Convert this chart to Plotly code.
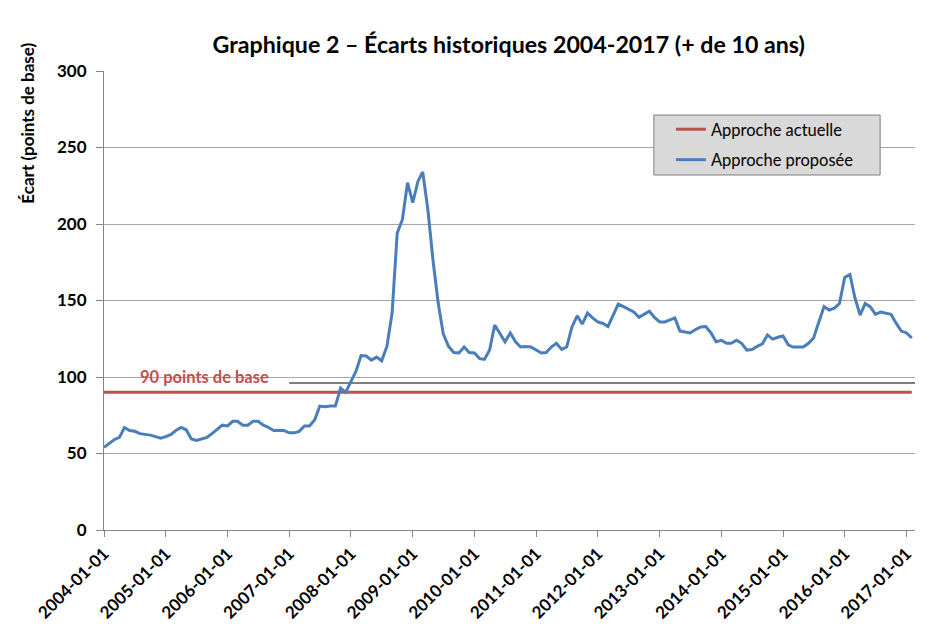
import pandas as pd
import plotly.graph_objects as go

# ---- Data ----
dates = pd.date_range("2004-01-01", "2017-02-01", freq="MS").strftime("%Y-%m-%d").tolist()

approche_proposee = [
    # 2004
    54, 56.5, 59, 60.5, 67, 65, 64.5, 63, 62.5, 62, 61, 60,
    # 2005
    61, 62.5, 65, 67, 65.5, 59.5, 58.5, 59.5, 60.5, 63, 66, 68.5,
    # 2006
    68, 71, 71, 68.5, 68.5, 71, 71, 68.5, 67, 65, 65, 65,
    # 2007
    63.5, 63.5, 64.5, 68, 68, 72, 81, 80.5, 81, 81, 92.8, 90,
    # 2008
    97, 104, 114, 113.7, 111, 113, 110.6, 120, 142, 194, 203, 227,
    # 2009
    214, 228, 234, 209, 176, 148, 128, 120, 116, 115.7, 119.6, 116,
    # 2010
    115.7, 112, 111.5, 117.6, 134, 128.8, 123, 128.8, 123, 119.6, 120, 119.6,
    # 2011
    117.6, 115.7, 116, 119.6, 122, 118, 119.6, 132.7, 140, 134.6, 141.8, 138.6,
    # 2012
    136, 135, 133, 140.5, 147.7, 146, 144.4, 142.5, 139, 141, 143, 139,
    # 2013
    136, 136, 137, 138.6, 130, 129.4, 128.8, 131, 132.7, 133, 128.8, 123,
    # 2014
    124, 122, 122, 124, 122, 117.6, 118, 120, 121.6, 127.5, 124.8, 126,
    # 2015
    126.8, 121, 119.6, 119.6, 119.6, 122, 125.5, 136, 146, 143.8, 145, 148,
    # 2016
    165, 167, 152, 140.5, 148, 145.8, 141, 142.5, 141.8, 141, 135, 130,
    # 2017
    128.8, 125.5,
]

approche_actuelle = [90] * len(dates)

ligne_grise_dates = ["2007-01-01", "2017-02-28"]
ligne_grise_valeurs = [96, 96]

tick_dates = [f"{y}-01-01" for y in range(2004, 2018)]
y_ticks = [0, 50, 100, 150, 200, 250, 300]

titre = "Graphique 2 – Écarts historiques 2004-2017 (+ de 10 ans)"
titre_y = "Écart (points de base)"
note_90 = "90 points de base"

FONT = "Lato"
BLEU = "#4a7ebb"
ROUGE = "#c0504d"
GRIS = "#868686"

fig = go.Figure()

fig.add_trace(go.Scatter(
    x=ligne_grise_dates, y=ligne_grise_valeurs, mode="lines",
    line=dict(color="#7f7f7f", width=2), showlegend=False, hoverinfo="skip",
))
fig.add_trace(go.Scatter(
    x=dates, y=approche_actuelle, mode="lines", name="Approche actuelle",
    legendgroup="a", line=dict(color=ROUGE, width=3),
))
fig.add_trace(go.Scatter(
    x=dates, y=approche_proposee, mode="lines", name="Approche proposée",
    legendgroup="b", line=dict(color=BLEU, width=3),
))

# page body has an 8px margin: the figure is sized/offset to compensate
fig.update_layout(
    width=929, height=623,
    margin=dict(l=96, r=22, t=63, b=101, autoexpand=False),
    paper_bgcolor="white", plot_bgcolor="white",
    font=dict(family=FONT, color="black"),
    title=dict(text="<b>" + titre + "</b>", x=0.539, xanchor="center",
               y=0.9406, yanchor="middle", font=dict(size=23.2, family=FONT)),
    legend=dict(
        x=0.699, y=0.9107, xanchor="left", yanchor="top",
        bgcolor="rgba(0,0,0,0)", borderwidth=0,
        font=dict(size=16.5, family=FONT), itemwidth=30,
        tracegroupgap=6,
    ),
    showlegend=True,
)

fig.update_xaxes(
    type="date", automargin=False,
    range=["2004-01-01", "2017-02-20"],
    tickvals=tick_dates, ticktext=["<b>%s</b>" % t for t in tick_dates],
    tickangle=-45,
    tickfont=dict(size=17, family=FONT, color="black"),
    ticks="outside", ticklen=6, tickcolor=GRIS,
    showline=True, linecolor=GRIS, linewidth=1,
    showgrid=False, zeroline=False,
)
fig.update_yaxes(
    range=[0, 300], tickvals=y_ticks, automargin=False,
    ticktext=["<b>%d</b>" % v for v in y_ticks],
    tickfont=dict(size=17, family=FONT, color="black"),
    ticks="outside", ticklen=7, tickcolor=GRIS, ticklabelstandoff=6,
    showline=True, linecolor=GRIS, linewidth=1,
    showgrid=True, gridcolor="#a6a6a6", gridwidth=1,
    zeroline=False,
)

# legend box
fig.add_shape(
    type="rect", xref="paper", yref="paper",
    x0=0.678, x1=0.957, y0=0.7734, y1=0.9041,
    fillcolor="#d9d9d9", line=dict(color="#7f7f7f", width=1), layer="above",
)

fig.add_annotation(
    text="<b>" + titre_y + "</b>", textangle=-90,
    xref="paper", yref="paper", x=-0.094, y=0.887,
    xanchor="center", yanchor="middle", showarrow=False,
    font=dict(size=17, family=FONT, color="black"),
)
fig.add_annotation(
    text="<b>" + note_90 + "</b>", xref="x", yref="y",
    x="2005-08-20", y=100, xanchor="center", yanchor="middle",
    showarrow=False, font=dict(size=16.5, family=FONT, color=ROUGE),
)

fig.write_html("out.html")
